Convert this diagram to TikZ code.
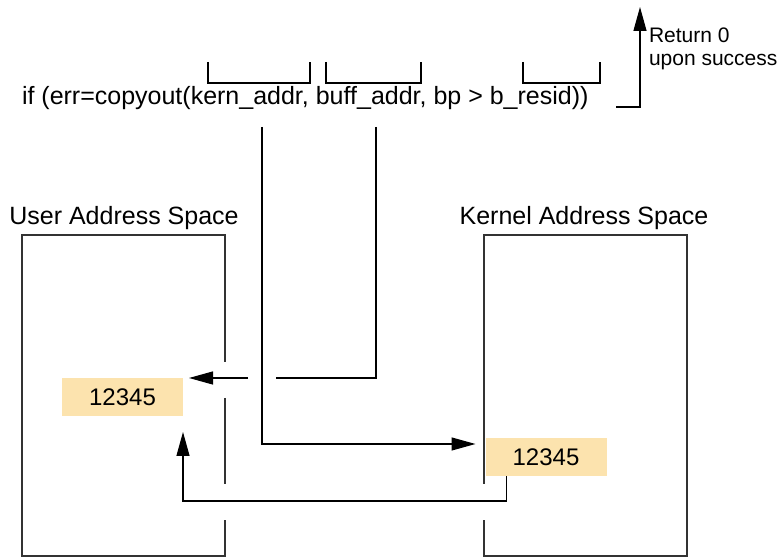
\documentclass[tikz,border=0pt]{standalone}
\usepackage{fontspec}
\setmainfont{Liberation Sans}
\usetikzlibrary{arrows.meta, positioning, calc}

\definecolor{valfill}{RGB}{252,227,174}
\definecolor{edgegray}{RGB}{51,51,51}

\begin{document}
\begin{tikzpicture}[
                x = 0.5pt, y = -0.5pt, % one unit is one pixel of the layout
                > = {Triangle[length=12pt, width=6.5pt]}, % arrow head style
                semithick % line style
            ]

            \tikzstyle{every node}=[
            inner sep = 0pt,
            outer sep = 0pt
            ]
            \tikzstyle{codetext}=[font=\fontsize{12.5}{15}\selectfont]
            \tikzstyle{notetext}=[font=\fontsize{10.5}{11.5}\selectfont, align=left]
            \tikzstyle{valbox}=[fill=valfill, minimum width=60.5pt, minimum height=19pt,
                                font=\fontsize{12}{14}\selectfont]
            \tikzstyle{spaceedge}=[draw=edgegray, line width=0.9pt]

            \useasboundingbox (0,0) rectangle (782,560);

            % the call and its arguments
            \node[codetext, anchor=base west] (call) at (22,105)
                {if (err=copyout(kern\_addr, buff\_addr, bp > b\_resid))};
            \draw (208,62) |- (310,83) -- (310,62);
            \draw (326,62) |- (421,83) -- (421,62);
            \draw (523,62) |- (600,83) -- (600,62);

            % return value
            \coordinate (retstart) at (616,107);
            \coordinate (rettip) at (640,7);
            \draw[->] (retstart) -| (rettip);
            \node[notetext, anchor=base west] (ret) at (649,66) {Return 0\\upon success};

            % the two address spaces
            \node[codetext, anchor=base] (ulabel) at (124,225) {User Address Space};
            \node[codetext, anchor=base] (klabel) at (584,225) {Kernel Address Space};

            \node[valbox] (uval) at (122.5,397) {12345};
            \node[valbox] (kval) at (546,457) {12345};

            \draw[spaceedge] (225,362) -- (225,235) -- (22,235) -- (22,556) -- (225,556) -- (225,520);
            \draw[spaceedge] (225,398) -- (225,484);
            \draw[spaceedge] (484,484) -- (484,235) -- (687,235) -- (687,556) -- (484,556) -- (484,520);

            % copy paths
            \coordinate (kernarg) at (262,127);
            \coordinate (buffarg) at (376,127);
            \coordinate (gapR) at (276,378);
            \coordinate (gapL) at (248,378);

            \draw[->] (kernarg) |- ($(kval.west)+(-10,-13)$);
            \draw (buffarg) |- (gapR);
            \draw[->] (gapL) -- ($(uval.north east)+(6,0)$);
            \draw[->] ($(kval.south west)+(21,0)$) -- ++(0,25) -| ($(uval.south east)+(0,16)$);
        \end{tikzpicture}
\end{document}
